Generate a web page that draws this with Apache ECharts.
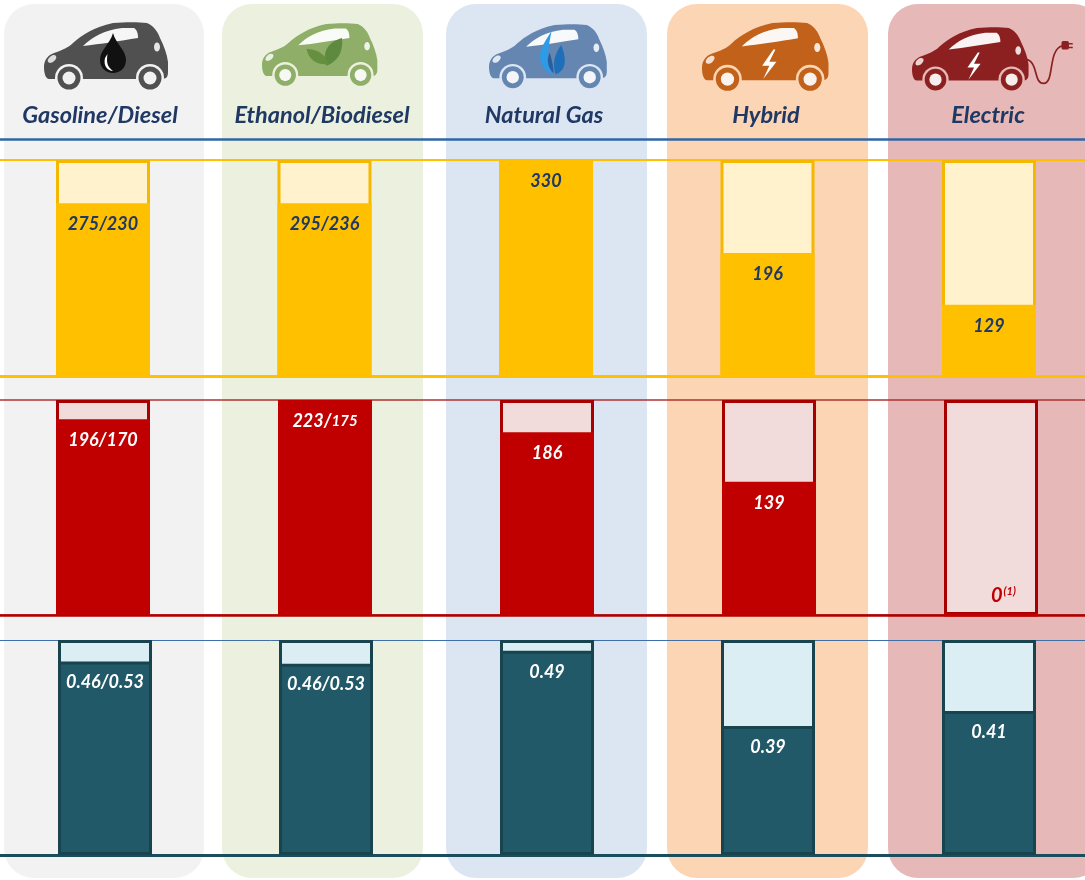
<!DOCTYPE html>
<html><head><meta charset="utf-8">
<style>html,body{margin:0;padding:0;background:#fff}#c{width:1085px;height:880px}</style>
<script src="https://cdn.jsdelivr.net/npm/echarts@6/dist/echarts.min.js"></script>
</head><body><div id="c"></div>
<script>
// ---- data ----
const categories = ['Gasoline/Diesel','Ethanol/Biodiesel','Natural Gas','Hybrid','Electric'];
// filled share of each column (percent of frame height)
const frameFull    = [100,100,100,100,100];
const topFill      = [80,80,100,57,33];
const middleFill   = [91,100,85,62,0];
const bottomFill   = [90,89,95,60,67];
// printed labels
const topLabels    = ['275/230','295/236','330','196','129'];
const middleLabels = ['196/170','223/{s|175}','186','139','{z|0}{n|(1)}'];
const bottomLabels = ['0.46/0.53','0.46/0.53','0.49','0.39','0.41'];

// ---- layout and styling ----
const FONT = 'Lato, "Open Sans", sans-serif';
const NAVY = '#1F3864';
const rows = [
  {fill:topFill,   labels:topLabels,   top:160,height:216,left:-7.75,width:1107.5,main:'#FFC000',edge:'#F5B800',fillEdge:'#FFC000',light:'#FFF2CC',text:NAVY,  topW:2,  topC:'#FFC000',botW:3,  botC:'#FFC000'},
  {fill:middleFill,labels:middleLabels,top:400,height:215,left:-8,   width:1110,  main:'#C00000',edge:'#A80000',fillEdge:'#C00000',light:'#F2DCDB',text:'#fff',topW:1.5,topC:'#B03030',botW:2.5,botC:'#B00000'},
  {fill:bottomFill,labels:bottomLabels,top:640,height:215,left:-5.5, width:1105,  main:'#215968',edge:'#17444F',fillEdge:'#17444F',light:'#DAEEF3',text:'#fff',topW:1,  topC:'#3F6FA8',botW:3,  botC:'#1B4D5C'}
];
const panels = [
  {x:4,  w:200,c:'#F2F2F2'},
  {x:222,w:201,c:'#EBF1DE'},
  {x:446,w:201,c:'#DCE6F2'},
  {x:667,w:201,c:'#FCD5B5'},
  {x:888,w:215,c:'#E6B8B7'}
];
let shapeId = 0;
function shapeOf(d) {
  const name = 'iconShape' + (shapeId++);
  echarts.graphic.registerShape(name, echarts.graphic.extendPath(d, {}));
  return name;
}
const BODY = shapeOf('M0,45 C0,38 4,33 10,31 C18,28 24,26 29,21 C38,13 50,5 69,1 C82,0 94,0 103,1 C110,4 114,10 116,16 C120,24 123,32 124,40 L124,50 C124,55 122,57 118,57 L5,57 C2,57 0,52 0,45 Z');
const WINDOW = shapeOf('M39,24 C48,15 60,8 78,6 L90,6 C93,8 94,11 94,16 C76,19 56,22 39,24 Z');

function car(x, y, s, color, panel, emblem) {
  const wheel = cx => [
    {type:'circle',shape:{cx,cy:56,r:14},style:{fill:panel},z:5},
    {type:'circle',shape:{cx,cy:56,r:11.5},style:{fill:color},z:6},
    {type:'circle',shape:{cx,cy:56,r:6.5},style:{fill:'#fff',opacity:.92},z:7}
  ];
  return {type:'group',x,y,scaleX:s,scaleY:s,silent:true,children:[
    {type:BODY,style:{fill:color},z:4},
    {type:WINDOW,style:{fill:'#fff',opacity:.95},z:5},
    {type:'ellipse',shape:{cx:8,cy:37,rx:3,ry:5},rotation:-0.9,originX:8,originY:37,style:{fill:'#fff',opacity:.8},z:5},
    {type:'ellipse',shape:{cx:113,cy:25,rx:3,ry:4.5},style:{fill:'#fff',opacity:.85},z:5},
    ...wheel(25),...wheel(106),
    ...emblem
  ]};
}
const p = (d, fill) => ({type:shapeOf(d),style:{fill},z:8});
const BOLT = 'M70,27 L59,43 L66,43 L60,56 L73,39 L66,39 L72,27 Z';
const drop = [
  p('M69,11 C66,22 56,28 56,38 C56,46 62,51 69,51 C76,51 82,46 82,38 C82,28 72,22 69,11 Z','#111'),
  {type:shapeOf('M61,36 C59,44 64,49 69,49 C64,45 62,42 63.5,32 Z'),style:{fill:'#fff'},z:9}
];
const leaf = [
  p('M86,16 C72,20 64,30 69,46 C80,42 88,32 86,16 Z','#5E8A3F'),
  p('M48,28 C50,40 60,46 72,44 C68,34 60,28 48,28 Z','#66903F')
];
const flame = [
  p('M66,7 C58,20 50,30 56,44 C59,49 64,52 68,54 C62,44 60,34 66,7 Z','#2E9BE6'),
  p('M76,22 C70,30 66,40 70,53 C78,50 84,42 76,22 Z','#1F6FB8'),
  p('M64,30 C60,38 62,46 68,52 C68,44 66,38 64,30 Z','#2B5E9E')
];
const cord = [
  {type:shapeOf('M118,34 C136,34 128,60 140,60 C152,60 144,24 160,20'),style:{fill:'none',stroke:'#8C2020',lineWidth:1.8},z:8},
  {type:'rect',shape:{x:159,y:15,width:8,height:9,r:2},style:{fill:'#8C2020'},z:8},
  {type:'rect',shape:{x:167,y:17,width:4,height:1.6},style:{fill:'#8C2020'},z:8},
  {type:'rect',shape:{x:167,y:21,width:4,height:1.6},style:{fill:'#8C2020'},z:8}
];

const graphic = [
  ...panels.map(b => ({type:'rect',shape:{x:b.x,y:4,width:b.w,height:874,r:30},style:{fill:b.c},z:-10,silent:true})),
  car(44,22,1.0,'#505050','#F2F2F2',drop),
  car(262,23,0.93,'#8FAE68','#EBF1DE',leaf),
  car(489,24,0.95,'#6686B2','#DCE6F2',flame),
  car(702,22,1.02,'#C1611A','#FCD5B5',[p(BOLT,'#fff')]),
  car(912,27,0.94,'#8C2020','#E6B8B7',[p(BOLT,'#fff'),...cord])
];

const grid = [{left:-11,width:1110,top:138,height:1,outerBoundsMode:'none'}];
const xAxis = [{type:'category',gridIndex:0,position:'top',data:categories,
  axisLine:{show:true,lineStyle:{color:'#2F66A6',width:2.5}},axisTick:{show:false},
  axisLabel:{show:true,interval:0,margin:11,fontFamily:FONT,fontStyle:'italic',fontWeight:'bold',fontSize:23.5,color:NAVY}}];
const yAxis = [{type:'value',gridIndex:0,show:false,min:0,max:100,splitLine:{show:false}}];
const series = [];
rows.forEach((r,i) => {
  const k = i + 1;
  grid.push({left:r.left,width:r.width,top:r.top,height:r.height,outerBoundsMode:'none'});
  xAxis.push({type:'category',gridIndex:k,data:categories,
    axisLine:{show:true,onZero:false,lineStyle:{color:r.botC,width:r.botW}},axisTick:{show:false},axisLabel:{show:false}});
  yAxis.push({type:'value',gridIndex:k,min:0,max:100,interval:100,
    axisLine:{show:false},axisTick:{show:false},axisLabel:{show:false},
    splitLine:{show:true,lineStyle:{color:r.topC,width:r.topW}}});
  series.push({type:'bar',xAxisIndex:k,yAxisIndex:k,data:frameFull,barWidth:94,barGap:'-100%',silent:true,z:3,
    itemStyle:{color:r.light,borderColor:r.edge,borderWidth:3}});
  series.push({type:'bar',xAxisIndex:k,yAxisIndex:k,data:r.fill,barWidth:94,barGap:'-100%',silent:true,z:4,
    itemStyle:{color:r.main,borderColor:r.fillEdge,borderWidth:3},
    label:{show:true,position:'insideTop',distance:12,
      formatter:o=>r.labels[o.dataIndex],
      fontFamily:FONT,fontStyle:'italic',fontWeight:'bold',fontSize:18,color:r.text,
      rich:{
        s:{fontFamily:FONT,fontStyle:'italic',fontWeight:'bold',fontSize:15,color:r.text},
        z:{fontFamily:FONT,fontStyle:'italic',fontWeight:'bold',fontSize:20,color:'#C00000'},
        n:{fontFamily:FONT,fontSize:11,color:'#C00000',verticalAlign:'top',padding:[0,0,6,1]}
      }},
    labelLayout:o=>o.dataIndex===4&&i===1?{y:r.top+r.height-29}:null});
});

const chart = echarts.init(document.getElementById('c'),null,{renderer:'canvas'});
chart.setOption({animation:false,backgroundColor:'#fff',graphic:{elements:graphic},grid,xAxis,yAxis,series});
</script></body></html>
